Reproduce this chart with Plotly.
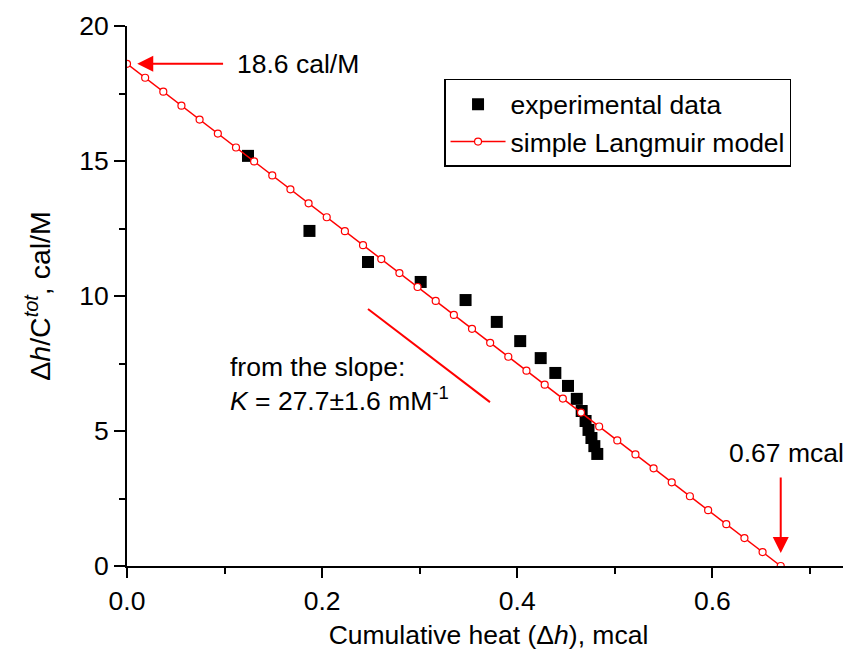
import plotly.graph_objects as go

# experimental data (cumulative heat, mcal ; dh/Ctot, cal/M)
exp_x = [0.124, 0.187, 0.247, 0.301, 0.347, 0.379, 0.403, 0.424, 0.439,
         0.452, 0.461, 0.466, 0.470, 0.473, 0.476, 0.479, 0.482]
exp_y = [15.19, 12.41, 11.26, 10.52, 9.85, 9.04, 8.33, 7.70, 7.15,
         6.67, 6.19, 5.74, 5.37, 5.04, 4.74, 4.44, 4.15]

# simple Langmuir model points
mod_x = [0.0, 0.0186, 0.0372, 0.0558, 0.0744, 0.0931, 0.1117, 0.1303, 0.1489,
         0.1675, 0.1861, 0.2047, 0.2233, 0.2419, 0.2606, 0.2792, 0.2978, 0.3164,
         0.3350, 0.3536, 0.3722, 0.3908, 0.4094, 0.4281, 0.4467, 0.4653, 0.4839,
         0.5025, 0.5211, 0.5397, 0.5583, 0.5769, 0.5956, 0.6142, 0.6328, 0.6514, 0.6700]
mod_y = [18.6, 18.083, 17.567, 17.05, 16.533, 16.017, 15.5, 14.983, 14.467,
         13.95, 13.433, 12.917, 12.4, 11.883, 11.367, 10.85, 10.333, 9.817,
         9.3, 8.783, 8.267, 7.75, 7.233, 6.717, 6.2, 5.683, 5.167,
         4.65, 4.133, 3.617, 3.1, 2.583, 2.067, 1.55, 1.033, 0.517, 0.0]

# slope indicator segment
slope_x = [0.247, 0.372]
slope_y = [9.52, 6.07]

intercept_y = 18.6
intercept_x = 0.67

FONT = "Liberation Sans, Arial, sans-serif"
FS = 26.5
RED = "#ff0000"

fig = go.Figure()
fig.add_trace(go.Scatter(
    x=exp_x, y=exp_y, mode="markers", name="experimental data",
    marker=dict(symbol="square", size=12, color="black"),
))
fig.add_trace(go.Scatter(
    x=mod_x, y=mod_y, mode="lines+markers", name="simple Langmuir model",
    line=dict(color=RED, width=1.5),
    marker=dict(symbol="circle", size=7, color="white", line=dict(color=RED, width=1.2)),
))
fig.add_trace(go.Scatter(
    x=slope_x, y=slope_y, mode="lines", showlegend=False,
    line=dict(color=RED, width=2), hoverinfo="skip",
))

ann = []
ann.append(dict(x=0.0105, y=intercept_y, ax=0.1, ay=intercept_y,
                xref="x", yref="y", axref="x", ayref="y",
                showarrow=True, arrowhead=2, arrowsize=1.6, arrowwidth=2,
                arrowcolor=RED, text=""))
ann.append(dict(x=0.111, y=intercept_y, xref="x", yref="y", showarrow=False,
                text="18.6 cal/M", xanchor="left", yanchor="middle",
                font=dict(size=FS, color="black", family=FONT)))
ann.append(dict(x=intercept_x, y=0.48, ax=intercept_x, ay=3.33,
                xref="x", yref="y", axref="x", ayref="y",
                showarrow=True, arrowhead=2, arrowsize=1.6, arrowwidth=2,
                arrowcolor=RED, text=""))
ann.append(dict(x=0.676, y=4.18, xref="x", yref="y", showarrow=False,
                text="0.67 mcal", xanchor="center", yanchor="middle",
                font=dict(size=FS, color="black", family=FONT)))
ann.append(dict(x=0.103, y=7.37, xref="x", yref="y", showarrow=False,
                text="from the slope:", xanchor="left", yanchor="middle",
                font=dict(size=FS, color="black", family=FONT)))
ann.append(dict(x=0.103, y=6.19, xref="x", yref="y", showarrow=False,
                text="<i>K</i> = 27.7±1.6 mM<sup>-1</sup>", xanchor="left", yanchor="middle",
                font=dict(size=FS, color="black", family=FONT)))

fig.update_layout(
    width=843, height=643,
    margin=dict(l=119, r=1, t=18, b=85, autoexpand=False),
    paper_bgcolor="white", plot_bgcolor="white",
    font=dict(family=FONT, size=FS, color="black"),
    showlegend=True,
    legend=dict(x=0.4385, y=0.902, xanchor="left", yanchor="top",
                bordercolor="black", borderwidth=1.5, bgcolor="white",
                font=dict(size=FS, family=FONT), tracegroupgap=0, itemwidth=55),
    annotations=ann,
)
fig.update_xaxes(
    range=[0, 0.741], showgrid=False, zeroline=False,
    showline=True, linecolor="black", linewidth=2,
    ticks="outside", ticklen=10, tickwidth=2, tickcolor="black",
    tick0=0, dtick=0.2, tickformat=".1f",
    minor=dict(dtick=0.1, ticklen=6, tickwidth=2, tickcolor="black", ticks="outside"),
    title=dict(text="Cumulative heat (Δ<i>h</i>), mcal", font=dict(size=FS, family=FONT), standoff=11),
    tickfont=dict(size=FS, family=FONT),
)
fig.update_yaxes(
    range=[0, 20], showgrid=False, zeroline=False,
    showline=True, linecolor="black", linewidth=2,
    ticks="outside", ticklen=11, tickwidth=2, tickcolor="black",
    tick0=0, dtick=5,
    minor=dict(dtick=2.5, ticklen=6, tickwidth=2, tickcolor="black", ticks="outside"),
    title=dict(text="Δ<i>h</i>/C<sup><i>tot</i></sup>, cal/M", font=dict(size=28.5, family=FONT), standoff=20),
    tickfont=dict(size=FS, family=FONT),
)

fig.write_html("out.html")
